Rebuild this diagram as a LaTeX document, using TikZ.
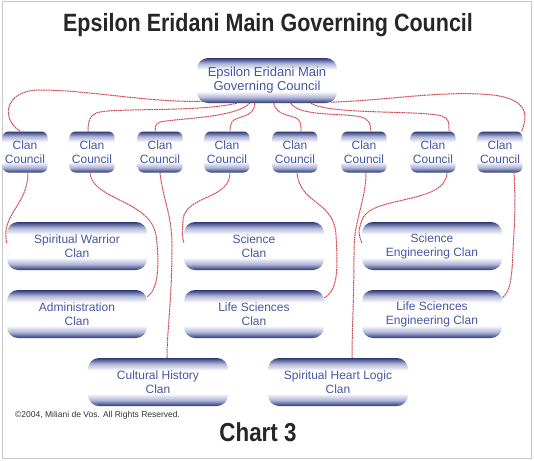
\documentclass[tikz,border=0pt]{standalone}
\usepackage{fontspec}
\setmainfont{Liberation Sans}
\newfontfamily\eehead[FakeStretch=0.86]{Liberation Sans}
\definecolor{eenavy}{HTML}{2C3873}
\definecolor{eelav}{HTML}{AEB4D8}
\definecolor{eeink}{HTML}{4757A3}
\definecolor{eewire}{HTML}{D04A52}
\definecolor{eeframe}{HTML}{C8C8C8}
% dark rim top and bottom, white band for the text
\pgfdeclareverticalshading{eepill}{100bp}{color(0bp)=(eenavy); color(25bp)=(eenavy); color(31bp)=(eelav); color(38bp)=(white); color(62bp)=(white); color(69bp)=(eelav); color(75bp)=(eenavy); color(100bp)=(eenavy)}
\tikzset{
  pill/.style={rounded corners=11pt, shading=eepill, align=center, text=eeink, font=\fontsize{12}{14}\selectfont, inner sep=0pt},
  council/.style={pill, rounded corners=6pt, minimum width=45pt, minimum height=41pt},
  clan/.style={pill, minimum width=140pt, minimum height=48pt},
  wire/.style={draw=eewire, line width=1pt, dash pattern=on 1.8pt off 0.6pt},
  ttl/.style={font=\eehead\bfseries\fontsize{25}{28}\selectfont, text=black!85, inner sep=0pt},
  lbl/.style={font=\fontsize{8.5}{10}\selectfont, text=black!80, inner sep=0pt},
}

\begin{document}
\begin{tikzpicture}[x=1pt, y=-1pt]
  \useasboundingbox (0,0) rectangle (534,460);
  \draw[eeframe, line width=1pt] (2,2) rectangle (531,458);
  \node[ttl, anchor=base] (title) at (268,31) {Epsilon Eridani Main Governing Council};
  \node[pill, minimum width=140pt, minimum height=45pt, font=\fontsize{13}{14}\selectfont] (main) at (267,80.5) {Epsilon Eridani Main\\Governing Council};
  \foreach \i/\x in {1/25,2/92,3/160,4/227,5/295,6/364,7/433,8/500}
    \node[council] (cc\i) at (\x,152) {Clan\\Council};
  \node[clan] (sw) at (77,246) {Spiritual Warrior\\Clan};
  \node[clan] (sci) at (254,246) {Science\\Clan};
  \node[clan] (seng) at (432,246) {Science\\Engineering Clan};
  \node[clan] (adm) at (77,314) {Administration\\Clan};
  \node[clan] (life) at (254,314) {Life Sciences\\Clan};
  \node[clan] (leng) at (432,314) {Life Sciences\\Engineering Clan};
  \node[clan] (cult) at (158,382) {Cultural History\\Clan};
  \node[clan] (heart) at (338,382) {Spiritual Heart Logic\\Clan};
  \node[lbl, anchor=base west] (copy) at (15,417) {©2004, Miliani de Vos. All Rights Reserved.};
  \node[ttl, anchor=base, font=\eehead\bfseries\fontsize{26}{28}\selectfont] (chart) at (258,441) {Chart 3};

  % council to clan councils
  \draw[wire] ([xshift=6pt,yshift=2pt]main.south west) .. controls (150,103) and (90,90) .. (40,90) .. controls (5,90) and (0,118) .. ([xshift=-5pt]cc1.north);
  \draw[wire] ([xshift=40pt]main.south west) .. controls (200,112) and (120,108) .. (100,112) .. controls (90,114) and (88,120) .. ([xshift=-4pt]cc2.north);
  \draw[wire] ([xshift=53pt]main.south west) .. controls (235,118) and (180,118) .. (160,122) .. controls (155,124) and (155,128) .. ([xshift=-5pt]cc3.north);
  \draw[wire] ([xshift=58pt]main.south west) .. controls (255,118) and (235,116) .. (232,122) .. controls (230,125) and (230,128) .. ([xshift=3pt]cc4.north);
  \draw[wire] ([xshift=77pt]main.south west) .. controls (276,118) and (298,114) .. (300,122) .. controls (301,125) .. ([xshift=6pt]cc5.north);
  \draw[wire] ([xshift=94pt]main.south west) .. controls (300,118) and (350,112) .. (364,118) .. controls (370,122) .. ([xshift=7pt]cc6.north);
  \draw[wire] ([xshift=114pt]main.south west) .. controls (330,115) and (420,110) .. (442,116) .. controls (449,120) .. ([xshift=16pt]cc7.north);
  \draw[wire] ([xshift=134pt,yshift=1pt]main.south west) .. controls (390,100) and (430,92) .. (480,94) .. controls (530,96) and (528,115) .. ([xshift=-1pt]cc8.north east);

  % clan councils to clans
  \draw[wire] ([xshift=3pt]cc1.south) .. controls (28,205) and (0,215) .. ([yshift=3pt]sw.west);
  \draw[wire] ([xshift=-2pt]cc2.south) .. controls (92,200) and (150,200) .. (156,235) .. controls (160,265) and (158,290) .. ([yshift=-7pt]adm.north east);
  \draw[wire] (cc3.south) .. controls (163,200) and (172,215) .. (172,245) .. controls (172,300) and (167,330) .. ([xshift=9pt]cult.north);
  \draw[wire] ([xshift=3pt]cc4.south) .. controls (230,200) and (185,195) .. (183,220) .. controls (182,235) .. ([yshift=3pt]sci.west);
  \draw[wire] ([xshift=2pt]cc5.south) .. controls (300,205) and (334,200) .. (336,235) .. controls (338,270) and (338,290) .. ([yshift=-8pt]life.north east);
  \draw[wire] ([xshift=2pt]cc6.south) .. controls (366,200) and (354,220) .. (354,250) .. controls (354,300) and (352,330) .. ([xshift=14pt]heart.north);
  \draw[wire] ([xshift=14pt]cc7.south) .. controls (446,205) and (370,195) .. (362,220) .. controls (358,232) .. ([yshift=3pt]seng.west);
  \draw[wire] ([xshift=14pt]cc8.south) .. controls (516,210) and (514,230) .. (513,250) .. controls (512,280) and (510,292) .. ([yshift=-8pt]leng.north east);
\end{tikzpicture}
\end{document}
